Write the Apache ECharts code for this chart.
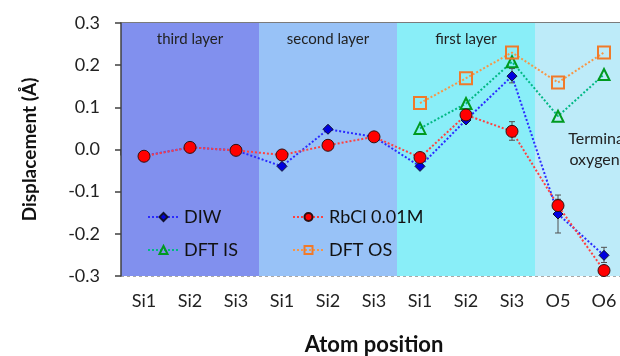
<!DOCTYPE html>
<html>
<head>
<meta charset="utf-8">
<script src="https://cdn.jsdelivr.net/npm/echarts@6/dist/echarts.min.js"></script>
<style>
  html, body { margin: 0; padding: 0; background: #fff; }
  #chart { width: 620px; height: 356px; }
</style>
</head>
<body>
<div id="chart"></div>
<script>
const categories = ['Si1', 'Si2', 'Si3', 'Si1', 'Si2', 'Si3', 'Si1', 'Si2', 'Si3', 'O5', 'O6']
const diw   = [-0.015, 0.005, -0.002, -0.040, 0.048, 0.030, -0.040, 0.070, 0.174, -0.153, -0.251]
const rbcl  = [-0.016, 0.005, -0.002, -0.013, 0.010, 0.030, -0.019, 0.082, 0.043, -0.133, -0.287]
const dftIS = ['-', '-', '-', '-', '-', '-', 0.050, 0.109, 0.208, 0.079, 0.178]
const dftOS = ['-', '-', '-', '-', '-', '-', 0.110, 0.169, 0.230, 0.159, 0.230]
// [category index, low, high]
const diwErr  = [[8, 0.158, 0.192], [9, -0.198, -0.108], [10, -0.268, -0.232]]
const rbclErr = [[8, 0.022, 0.066], [9, -0.150, -0.118], [10, -0.297, -0.277]]
// layer bands: [from, to, label, colour]
const bands = [
  [0, 3, 'third layer', '#8190ee'],
  [3, 6, 'second layer', '#98c2f7'],
  [6, 9, 'first layer', '#89eef8'],
  [9, 11, 'Terminal\noxygens', '#bdebf9']
]
const yTicks = { min: -0.3, max: 0.3, interval: 0.1 }

const font = 'Lato, "Open Sans", sans-serif'
const chart = echarts.init(document.getElementById('chart'))

const errSeries = (data, name) => ({
  type: 'custom',
  name: name + ' err',
  z: 3,
  data: data,
  renderItem: (params, api) => {
    const lo = api.coord([api.value(0), api.value(1)])
    const hi = api.coord([api.value(0), api.value(2)])
    const w = 3
    const st = { stroke: '#505050', lineWidth: 1 }
    return {
      type: 'group',
      children: [
        { type: 'line', shape: { x1: lo[0], y1: lo[1], x2: hi[0], y2: hi[1] }, style: st },
        { type: 'line', shape: { x1: lo[0] - w, y1: lo[1], x2: lo[0] + w, y2: lo[1] }, style: st },
        { type: 'line', shape: { x1: hi[0] - w, y1: hi[1], x2: hi[0] + w, y2: hi[1] }, style: st }
      ]
    }
  },
  tooltip: { show: false }
})

const legendAt = (name, left, top) => ({
  data: [name], left: left, top: top,
  itemWidth: 31, itemHeight: 10, itemGap: 6,
  textStyle: { fontFamily: font, fontSize: 18, color: '#111' }
})

const option = {
  animation: false,
  grid: { left: 121, top: 23, width: 506, bottom: 80, outerBoundsMode: 'none', containLabel: false },
  legend: [
    legendAt('DIW', 142, 203),
    legendAt('RbCl 0.01M', 287, 203),
    legendAt('DFT IS', 142, 236),
    legendAt('DFT OS', 287, 236)
  ],
  xAxis: [
    {
      type: 'category',
      data: categories,
      boundaryGap: true,
      axisLine: { lineStyle: { color: '#404040', width: 1.5 } },
      axisTick: { show: true, length: 6, lineStyle: { color: '#404040', width: 1.5 } },
      axisLabel: { fontFamily: font, fontSize: 18, color: '#222', margin: 16 },
      name: 'Atom position',
      nameLocation: 'middle',
      nameGap: 58,
      nameTextStyle: { fontFamily: font, fontSize: 22, fontWeight: 'bold', color: '#111' }
    },
    {
      type: 'value',
      position: 'top',
      min: 0, max: 11,
      axisLine: { show: true, onZero: false, lineStyle: { color: '#505050', width: 1.5 } },
      axisTick: { show: false },
      axisLabel: { show: false },
      splitLine: { show: false }
    }
  ],
  yAxis: {
    type: 'value',
    min: yTicks.min, max: yTicks.max, interval: yTicks.interval,
    z: 1,
    axisLine: { show: true, lineStyle: { color: '#404040', width: 1.5 } },
    axisTick: { show: true, length: 6, lineStyle: { color: '#404040', width: 1.5 } },
    axisLabel: { fontFamily: font, fontSize: 18, color: '#222', margin: 21, formatter: v => v.toFixed(1) },
    splitLine: { show: true, lineStyle: { color: '#a8a8a8', type: [3, 3], width: 1 } },
    name: 'Displacement (Å)',
    nameLocation: 'middle',
    nameGap: 82,
    nameTextStyle: { fontFamily: font, fontSize: 19, fontWeight: 'bold', color: '#111' }
  },
  series: [
    {
      type: 'line',
      name: 'bands',
      xAxisIndex: 1,
      z: 0,
      data: [],
      silent: true,
      markArea: {
        silent: true,
        data: bands.map(b => [
          {
            xAxis: b[0],
            yAxis: yTicks.min,
            itemStyle: { color: b[3] },
            label: b[0] === 9
              ? { show: true, position: 'inside', offset: [17, 0], formatter: b[2], fontFamily: font, fontSize: 16, lineHeight: 21, color: '#222' }
              : { show: true, position: 'insideTop', distance: 9, formatter: b[2], fontFamily: font, fontSize: 15, color: '#222' }
          },
          { xAxis: b[1], yAxis: yTicks.max }
        ])
      }
    },
    {
      type: 'line',
      name: 'DIW',
      data: diw,
      z: 4,
      symbol: 'diamond',
      symbolSize: 10,
      lineStyle: { color: '#2a2aff', type: 'dotted', width: 2 },
      itemStyle: { color: '#0000e0', borderColor: '#101030', borderWidth: 1 }
    },
    {
      type: 'line',
      name: 'RbCl 0.01M',
      data: rbcl,
      z: 5,
      symbol: 'circle',
      symbolSize: 12,
      lineStyle: { color: '#ff4040', type: 'dotted', width: 2 },
      itemStyle: { color: '#ff0000', borderColor: '#301010', borderWidth: 1 }
    },
    {
      type: 'line',
      name: 'DFT IS',
      data: dftIS,
      z: 3,
      symbol: 'triangle',
      symbolSize: 11,
      lineStyle: { color: '#00b884', type: 'dotted', width: 2 },
      itemStyle: { color: 'transparent', borderColor: '#009a20', borderWidth: 2 }
    },
    {
      type: 'line',
      name: 'DFT OS',
      data: dftOS,
      z: 3,
      symbol: 'rect',
      symbolSize: 12,
      lineStyle: { color: '#f79646', type: 'dotted', width: 2 },
      itemStyle: { color: 'transparent', borderColor: '#f07a2a', borderWidth: 2 }
    },
    errSeries(diwErr, 'DIW'),
    errSeries(rbclErr, 'RbCl')
  ]
}

chart.setOption(option)
</script>
</body>
</html>
